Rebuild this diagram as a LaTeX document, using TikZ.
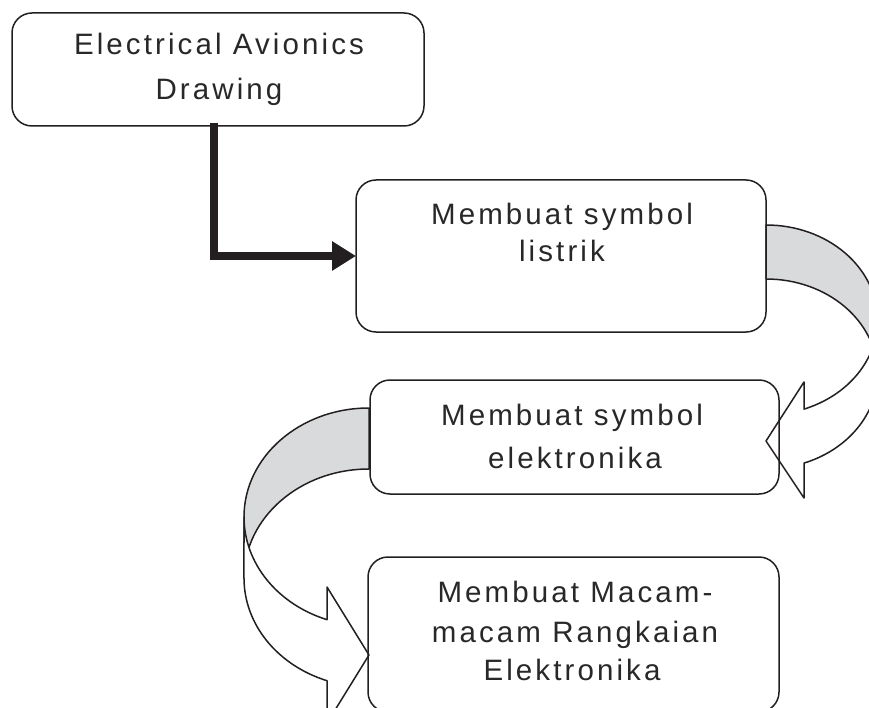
\documentclass[tikz,border=0pt]{standalone}
\usepackage{fontspec}
\newfontfamily\boxfont[LetterSpace=10.5]{Liberation Sans}
\usetikzlibrary{arrows.meta}
\definecolor{bandgray}{RGB}{217,218,220}
\definecolor{ink}{RGB}{35,31,32}
\definecolor{txtcol}{RGB}{40,40,40}
\begin{document}
\begin{tikzpicture}[x=1pt,y=-1pt,
  box/.style={draw=ink,line width=1.5pt,rounded corners=20pt,inner sep=0pt,outer sep=0pt},
  txt/.style={font=\boxfont\fontsize{29.5}{35}\selectfont,text=txtcol,anchor=base,inner sep=0pt},
  bandline/.style={draw=ink,line width=1.5pt,line join=round},
  elbow/.style={draw=ink,line width=8pt,line join=miter,-{Triangle[length=24pt,width=28pt]}}]
\path[use as bounding box] (0,0) rectangle (869,708);
\clip (0,0) rectangle (869,708);
% right curved arrow (box 2 -> box 3)
\path[bandline,fill=bandgray] (766,225) arc[start angle=-90,end angle=0,x radius=111.5,y radius=94.9]
  -- (877.5,373.9) arc[start angle=0,end angle=-90,x radius=111.5,y radius=94.9] -- cycle;
\path[bandline,fill=white] (877.5,319.9) arc[start angle=0,end angle=70.07,x radius=111.5,y radius=94.9]
  -- (804,382) -- (766,441) -- (804,498) -- (804,463.1)
  arc[start angle=70.07,end angle=0,x radius=111.5,y radius=94.9] -- cycle;
% left curved arrow (box 3 -> box 4)
\path[bandline,fill=bandgray] (369,408) arc[start angle=-90,end angle=-180,x radius=125,y radius=109]
  -- (244,578) arc[start angle=-180,end angle=-90,x radius=125,y radius=109] -- cycle;
\path[bandline,fill=white] (244,517) arc[start angle=180,end angle=109.63,x radius=125,y radius=109]
  -- (327,587) -- (369,655) -- (327,723) -- (327,680.7)
  arc[start angle=109.63,end angle=180,x radius=125,y radius=109] -- cycle;
% boxes
\node[box,minimum width=412pt,minimum height=113pt] (b1) at (218,69.5) {};
\node[box,minimum width=410pt,minimum height=152pt] (b2) at (561,256) {};
\node[box,minimum width=409pt,minimum height=114pt] (b3) at (574.5,437) {};
\node[box,minimum width=411pt,minimum height=155pt] (b4) at (573.5,634.5) {};
% texts
\node[txt] (t1a) at (219,55) {Electrical Avionics};
\node[txt] (t1b) at (219,100) {Drawing};
\node[txt] (t2a) at (562,225) {Membuat symbol};
\node[txt] (t2b) at (562,262) {listrik};
\node[txt] (t3a) at (572,425) {Membuat symbol};
\node[txt] (t3b) at (575,468) {elektronika};
\node[txt] (t4a) at (575,602) {Membuat Macam-};
\node[txt] (t4b) at (575,642) {macam Rangkaian};
\node[txt] (t4c) at (572,680) {Elektronika};
% elbow connector
\draw[elbow] ([xshift=-4pt,yshift=3pt]b1.south) |- (b2.west);
\end{tikzpicture}
\end{document}
